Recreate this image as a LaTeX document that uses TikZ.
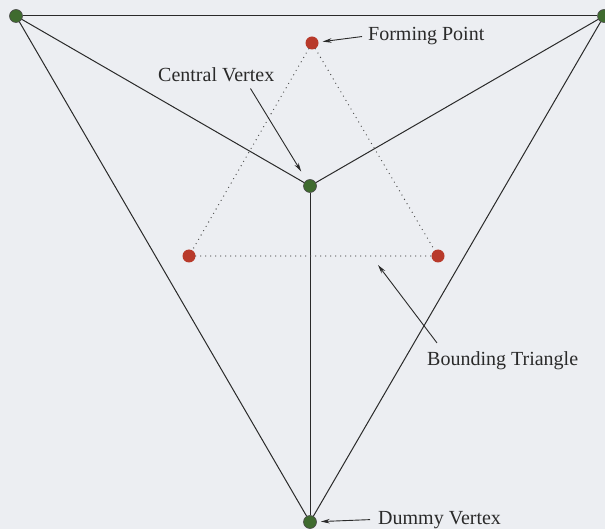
\documentclass[tikz,border=0pt]{standalone}
\usepackage{fontspec}
\setmainfont{Liberation Serif}
\usetikzlibrary{positioning,calc,arrows.meta}
\definecolor{paper}{HTML}{ECEEF2}
\definecolor{vgreen}{HTML}{3F6B2F}
\definecolor{vred}{HTML}{B83A2B}
\definecolor{ink}{HTML}{2A2A2A}

\begin{document}
\begin{tikzpicture}[x=1pt, y=-1pt,
  vertex/.style={circle, draw=ink!85, fill=vgreen, line width=0.6pt,
                 minimum size=13pt, inner sep=0pt},
  formpt/.style={circle, fill=vred, minimum size=13pt, inner sep=0pt},
  edge/.style={ink, line width=1pt},
  bound/.style={ink!85, line width=1.3pt, line cap=round,
                dash pattern=on 0pt off 5pt},
  pointer/.style={ink, line width=0.9pt, -{Stealth[length=9pt,width=4.5pt]}},
  lbl/.style={font=\fontsize{20}{24}\selectfont, text=ink, inner sep=0pt,
              anchor=base west},
]

% Paper
\fill[paper] (0,0) rectangle (605,529);
\useasboundingbox (0,0) rectangle (605,529);

% Outer (dummy) vertices and the central vertex
\node[vertex] (tl) at (16,16) {};
\node[vertex] (tr) at (604,16) {};
\node[vertex] (cv) at (310,186) {};
\node[vertex] (dv) at (310,522) {};

% Forming points of the bounding triangle
\node[formpt] (fp) at (312,43) {};
\node[formpt] (fl) at (189,256) {};
\node[formpt] (fr) at (438,256) {};

% Labels
\node[lbl] (fpl) at (368,41) {Forming Point};
\node[lbl] (cvl) at (158,82) {Central Vertex};
\node[lbl] (btl) at (427,365) {Bounding Triangle};
\node[lbl] (dvl) at (378,524) {Dummy Vertex};
\coordinate (btip) at (378,265);

% Triangulation edges
\draw[edge] (tl) -- (tr);
\draw[edge] (tl) -- (cv);
\draw[edge] (tr) -- (cv);
\draw[edge] (cv) -- (dv);
\draw[edge] (tl) -- (dv);
\draw[edge] (tr) -- (dv);

% Bounding triangle (dotted)
\draw[bound] (fp) -- (fl);
\draw[bound] (fp) -- (fr);
\draw[bound] (fl) -- (fr);

% Label pointers
\draw[pointer, shorten >=4pt] ($(fpl.west)+(-6,0)$) -- (fp);
\draw[pointer, shorten >=10pt] ($(cvl.south east)+(-24,6)$) -- (cv);
\draw[pointer] ($(btl.north west)+(10,-8)$) -- (btip);
\draw[pointer, shorten >=4pt] ($(dvl.west)+(-8,0)$) -- (dv);

\end{tikzpicture}
\end{document}
